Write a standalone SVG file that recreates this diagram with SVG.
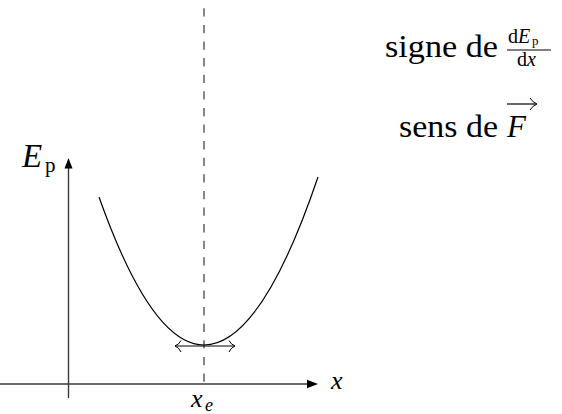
<svg xmlns="http://www.w3.org/2000/svg" width="562" height="414" viewBox="0 0 562 414">
<style>
.axis{stroke:#3a3a3a;stroke-width:1.4;fill:none}
.dash{stroke:#555;stroke-width:1.4;stroke-dasharray:8.3 8.3;stroke-dashoffset:8.3;fill:none}
.curve{stroke:#000;stroke-width:1.2;fill:none}
.thin{stroke:#000;stroke-width:1;fill:none}
.txt{font-family:"Liberation Serif",serif;fill:#000}
.math{font-family:"Liberation Serif",serif;font-style:italic;fill:#000}
</style>
<g id="connectors">
<line class="dash" x1="204" y1="0" x2="204" y2="386"/>
<line class="axis" x1="0" y1="384" x2="309" y2="384"/>
<path d="M318,384 L307,379.8 L307,388.2 Z" fill="#000"/>
<line class="axis" x1="68.5" y1="398" x2="68.5" y2="167"/>
<path d="M68.5,158 L64.5,168.5 L72.5,168.5 Z" fill="#000"/>
<path class="curve" d="M99,197 Q151.5,345 204,345 Q261,345 318,177"/>
<line class="thin" x1="175" y1="346" x2="235" y2="346"/>
<path class="thin" d="M181,340.5 Q179,344.5 175,346 Q179,347.5 181,352"/>
<path class="thin" d="M229,340.5 Q231,344.5 235,346 Q231,347.5 229,352"/>
</g>
<g id="label-Ep">
<text class="math" x="22" y="167" font-size="33">E</text>
<text class="txt" x="45" y="172" font-size="21">p</text>
</g>
<g id="label-x">
<text class="math" x="331" y="389" font-size="26">x</text>
</g>
<g id="label-xe">
<text class="math" x="191" y="407" font-size="26">x</text>
<text class="math" x="205" y="411" font-size="18">e</text>
</g>
<g id="label-signe">
<text class="txt" x="385" y="57" font-size="31" textLength="113" lengthAdjust="spacingAndGlyphs">signe de</text>
<text class="txt" x="508" y="43" font-size="20">d</text>
<text class="math" x="518" y="43" font-size="20">E</text>
<text class="txt" x="532" y="45" font-size="13">p</text>
<line x1="507" y1="50" x2="551" y2="50" stroke="#000" stroke-width="1"/>
<text class="txt" x="517" y="66" font-size="20">d</text>
<text class="math" x="527" y="66" font-size="20">x</text>
</g>
<g id="label-sens">
<text class="txt" x="399" y="137" font-size="31" textLength="99" lengthAdjust="spacingAndGlyphs">sens de</text>
<text class="math" x="507" y="137" font-size="31">F</text>
<line x1="507" y1="104" x2="536" y2="104" stroke="#000" stroke-width="1.2"/>
<path class="thin" d="M530,98 Q533,102.5 537,104 Q533,105.5 530,110"/>
</g>
</svg>
